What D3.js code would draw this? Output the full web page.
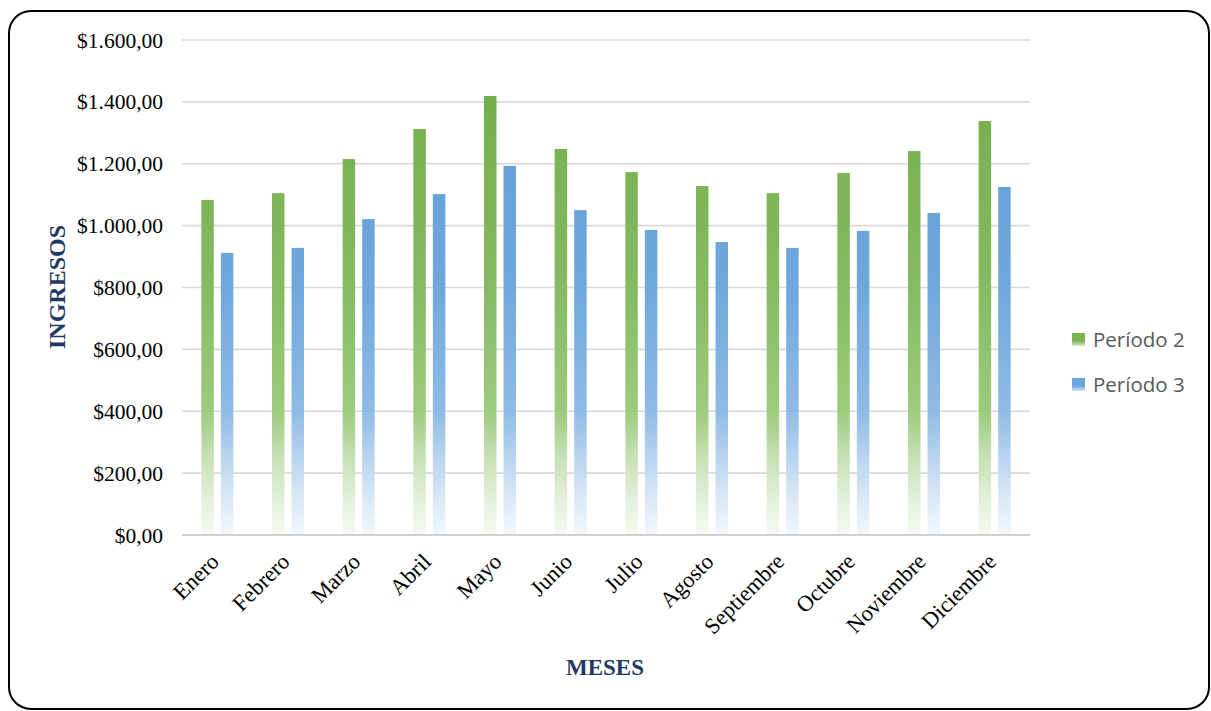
<!DOCTYPE html>
<html>
<head>
<meta charset="utf-8">
<script src="https://cdn.jsdelivr.net/npm/d3@7"></script>
<style>
  html, body { margin: 0; padding: 0; background: #ffffff; }
  svg { display: block; }
</style>
</head>
<body>
<svg id="chart" width="1211" height="711"></svg>
<script>
// Monthly income for two periods
const months = ["Enero", "Febrero", "Marzo", "Abril", "Mayo", "Junio",
  "Julio", "Agosto", "Septiembre", "Octubre", "Noviembre", "Diciembre"];
const seriesNames = ["Período 2", "Período 3"];
const periodo2 = [1083, 1105, 1215, 1312, 1419, 1248, 1173, 1128, 1105, 1170, 1241, 1338];
const periodo3 = [912, 928, 1021, 1102, 1193, 1050, 986, 947, 928, 983, 1041, 1125];
const yTicks = [0, 200, 400, 600, 800, 1000, 1200, 1400, 1600];

const svg = d3.select("#chart");
const plot = { left: 182, right: 1030, top: 40, bottom: 535 };

// Outer rounded frame
svg.append("rect")
  .attr("x", 9).attr("y", 11)
  .attr("width", 1200).attr("height", 698)
  .attr("rx", 22).attr("ry", 22)
  .attr("fill", "#ffffff")
  .attr("stroke", "#000000")
  .attr("stroke-width", 2);

const x = d3.scaleBand().domain(months)
  .range([plot.left, plot.right])
  .paddingInner(0.547).paddingOuter(0.2735);
const xs = d3.scaleBand().domain(seriesNames)
  .range([0, x.bandwidth()]).paddingInner(0.36);
const y = d3.scaleLinear().domain([0, 1600]).range([plot.bottom, plot.top]);

// Vertical fades shared across the plot
const defs = svg.append("defs");
function fade(id, stops) {
  const g = defs.append("linearGradient").attr("id", id)
    .attr("gradientUnits", "userSpaceOnUse")
    .attr("x1", 0).attr("x2", 0)
    .attr("y1", y(1600)).attr("y2", y(0));
  stops.forEach(s => g.append("stop").attr("offset", s[0]).attr("stop-color", s[1]));
}
fade("gGreen", [[0, "#6fac46"], [0.5, "#86ba63"], [0.75, "#9dcb7e"],
  [0.84, "#c6e0b4"], [0.93, "#e4f0dc"], [1, "#f6faf3"]]);
fade("gBlue", [[0, "#5a9bd5"], [0.5, "#70a8dc"], [0.75, "#8fbbe5"],
  [0.84, "#b8d3ef"], [0.93, "#dce9f6"], [1, "#f2f7fd"]]);
// Legend swatch fades
function swatchFade(id, a, b) {
  const g = defs.append("linearGradient").attr("id", id)
    .attr("x1", 0).attr("x2", 0).attr("y1", 0).attr("y2", 1);
  g.append("stop").attr("offset", 0).attr("stop-color", a);
  g.append("stop").attr("offset", 0.6).attr("stop-color", a);
  g.append("stop").attr("offset", 1).attr("stop-color", b);
}
swatchFade("sGreen", "#7ab553", "#d6eac8");
swatchFade("sBlue", "#6aa5dc", "#d5e5f5");
const fills = ["url(#gGreen)", "url(#gBlue)"];
const swatches = ["url(#sGreen)", "url(#sBlue)"];

// Horizontal gridlines
svg.append("g").selectAll("line")
  .data(yTicks.filter(d => d > 0))
  .join("line")
  .attr("x1", plot.left).attr("x2", plot.right)
  .attr("y1", d => y(d)).attr("y2", d => y(d))
  .attr("stroke", "#d9d9d9").attr("stroke-width", 1.6);

// Bars
const data = [periodo2, periodo3];
const groups = svg.append("g").selectAll("g")
  .data(months).join("g")
  .attr("transform", m => `translate(${x(m)},0)`);
groups.selectAll("rect")
  .data((m, i) => seriesNames.map((s, k) => ({ s, k, v: data[k][i] })))
  .join("rect")
  .attr("x", d => xs(d.s))
  .attr("width", xs.bandwidth())
  .attr("y", d => y(d.v))
  .attr("height", d => y(0) - y(d.v))
  .attr("fill", d => fills[d.k]);

// Category axis line
svg.append("line")
  .attr("x1", plot.left).attr("x2", plot.right)
  .attr("y1", y(0)).attr("y2", y(0))
  .attr("stroke", "#d0d0d0").attr("stroke-width", 2);

// Value axis labels
const fmt = d3.formatLocale({ decimal: ",", thousands: ".", grouping: [3], currency: ["$", ""] }).format("$,.2f");
svg.append("g").selectAll("text")
  .data(yTicks).join("text")
  .attr("x", 163).attr("y", d => y(d))
  .attr("dy", "0.35em")
  .attr("text-anchor", "end")
  .attr("font-family", "'Liberation Serif', 'Times New Roman', serif")
  .attr("font-size", 21.5)
  .attr("fill", "#000000")
  .text(d => fmt(d));

// Month labels, slanted
svg.append("g").selectAll("text")
  .data(months).join("text")
  .attr("transform", m => `translate(${x(m) + x.bandwidth() / 2 + 3},${plot.bottom + 28}) rotate(-45)`)
  .attr("text-anchor", "end")
  .attr("font-family", "'Liberation Serif', 'Times New Roman', serif")
  .attr("font-size", 22.5)
  .attr("fill", "#000000")
  .text(m => m);

// Axis titles
svg.append("text")
  .attr("x", 605).attr("y", 675)
  .attr("text-anchor", "middle")
  .attr("font-family", "'Liberation Serif', 'Times New Roman', serif")
  .attr("font-weight", "bold")
  .attr("font-size", 23)
  .attr("fill", "#1f3864")
  .text("MESES");
svg.append("text")
  .attr("transform", "translate(65,287) rotate(-90)")
  .attr("text-anchor", "middle")
  .attr("font-family", "'Liberation Serif', 'Times New Roman', serif")
  .attr("font-weight", "bold")
  .attr("font-size", 24)
  .attr("fill", "#1f3864")
  .text("INGRESOS");

// Legend
const legend = svg.append("g").selectAll("g")
  .data(seriesNames).join("g")
  .attr("transform", (s, i) => `translate(1072,${333 + i * 45})`);
legend.append("rect")
  .attr("width", 13).attr("height", 13)
  .attr("fill", (s, i) => swatches[i]);
legend.append("text")
  .attr("x", 21).attr("y", 14)
  .attr("font-family", "'Open Sans', 'Noto Sans', sans-serif")
  .attr("font-size", 20.5)
  .attr("fill", "#595959")
  .text(s => s);
</script>
</body>
</html>
